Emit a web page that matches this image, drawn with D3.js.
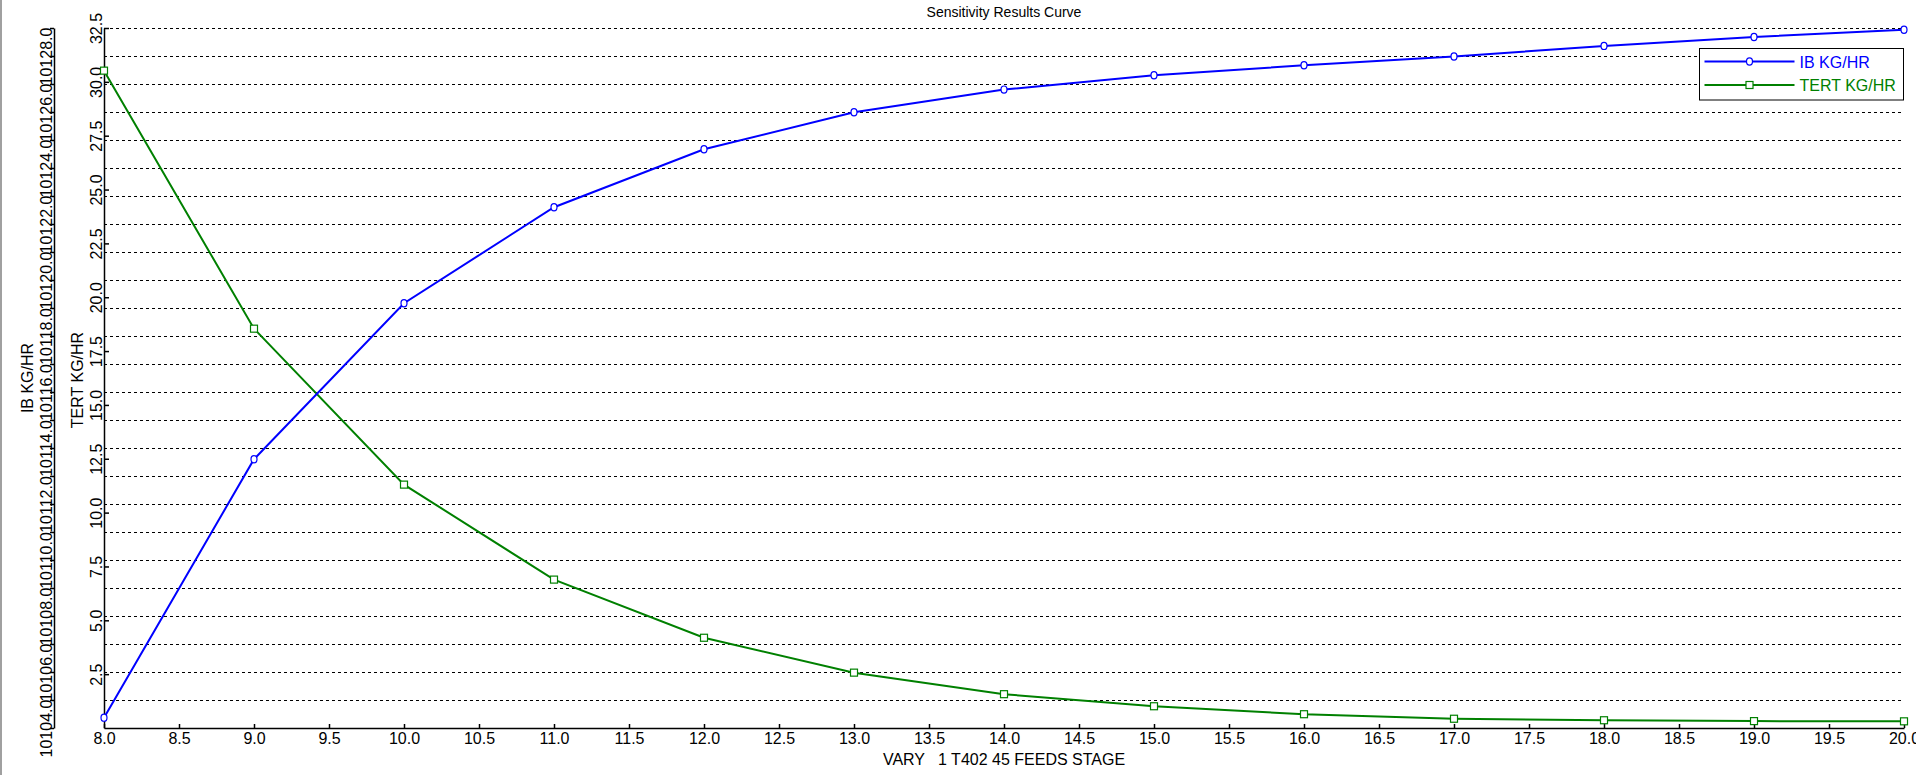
<!DOCTYPE html>
<html>
<head>
<meta charset="utf-8">
<script src="https://cdn.jsdelivr.net/npm/d3@7"></script>
<style>
  html, body { margin: 0; padding: 0; background: #fff; }
  svg { display: block; font-family: "Liberation Sans", Arial, sans-serif; }
</style>
</head>
<body>
<div id="chart"></div>
<script>
// values
var stages = [8, 9, 10, 11, 12, 13, 14, 15, 16, 17, 18, 19, 20];
var ibFlow = [10104.37, 10113.6, 10119.17, 10122.6, 10124.67, 10125.99, 10126.8,
  10127.31, 10127.67, 10127.98, 10128.36, 10128.68, 10128.94];
var tertFlow = [30.52, 18.54, 11.3, 6.89, 4.19, 2.57, 1.57, 1.01, 0.64, 0.43, 0.36, 0.32, 0.31];

var xTicks = d3.range(8, 20.01, 0.5);
var tertTicks = d3.range(2.5, 32.51, 2.5);
var ibTicks = d3.range(10104, 10129.5, 1);

var width = 1916,
  height = 775,
  plotLeft = 104,
  plotRight = 1904,
  plotTop = 28,
  plotBottom = 728,
  blue = "#0000ff",
  green = "#008000";

var svg = d3.select("#chart")
  .append("svg")
  .attr("width", width)
  .attr("height", height);

svg.append("rect")
  .attr("width", width)
  .attr("height", height)
  .attr("fill", "#fff");

// window edge at the far left
svg.append("rect")
  .attr("x", 0)
  .attr("y", 0)
  .attr("width", 2)
  .attr("height", height)
  .attr("fill", "#a0a0a0");

var x = d3.scaleLinear().domain([8, 20]).range([plotLeft, plotRight]);
var yTert = d3.scaleLinear().domain([0, 32.5]).range([plotBottom, plotTop]);
var yIb = d3.scaleLinear().domain([10104, 10129]).range([plotBottom, plotTop]);

// dashed grid, one line per IB tick
svg.append("g")
  .selectAll("line")
  .data(ibTicks.slice(1))
  .enter()
  .append("line")
  .attr("x1", plotLeft)
  .attr("x2", plotRight - 3)
  .attr("y1", function (d) { return Math.round(yIb(d)) + 0.5; })
  .attr("y2", function (d) { return Math.round(yIb(d)) + 0.5; })
  .attr("stroke", "#000")
  .attr("stroke-width", 1)
  .attr("stroke-dasharray", "3,3");

function styleAxis(g) {
  g.attr("font-family", "'Liberation Sans', Arial, sans-serif")
    .attr("font-size", 16);
  g.selectAll("path, line").attr("stroke", "#000").attr("stroke-width", 1.5);
  g.selectAll("text").attr("fill", "#000");
}

// x axis
var xAxis = svg.append("g")
  .attr("transform", "translate(0," + plotBottom + ")")
  .call(d3.axisBottom(x)
    .tickValues(xTicks)
    .tickSizeInner(-4)
    .tickSizeOuter(0)
    .tickPadding(5)
    .tickFormat(d3.format(".1f")));
styleAxis(xAxis);

// TERT axis (inner)
var tertAxis = svg.append("g")
  .attr("transform", "translate(" + plotLeft + ",0)")
  .call(d3.axisLeft(yTert)
    .tickValues(tertTicks)
    .tickSizeInner(-5)
    .tickSizeOuter(0)
    .tickFormat(d3.format(".1f")));
styleAxis(tertAxis);
tertAxis.selectAll("text")
  .attr("x", 0)
  .attr("dy", 0)
  .attr("text-anchor", "middle")
  .attr("transform", "translate(-2,0) rotate(-90)");

// IB axis (outer)
var ibAxis = svg.append("g")
  .attr("transform", "translate(54,0)")
  .call(d3.axisLeft(yIb)
    .tickValues(ibTicks)
    .tickSizeInner(4)
    .tickSizeOuter(0)
    .tickFormat(function (d) { return (d % 2 === 0) ? d3.format(".1f")(d) : ""; }));
styleAxis(ibAxis);
ibAxis.selectAll("text")
  .attr("x", 0)
  .attr("dy", 0)
  .attr("text-anchor", "middle")
  .attr("transform", "translate(-2,0) rotate(-90)");

// titles
svg.append("text")
  .attr("x", (plotLeft + plotRight) / 2)
  .attr("y", 17)
  .attr("text-anchor", "middle")
  .attr("font-size", 14)
  .attr("fill", "#000")
  .text("Sensitivity Results Curve");

svg.append("text")
  .attr("x", (plotLeft + plotRight) / 2)
  .attr("y", 765)
  .attr("text-anchor", "middle")
  .attr("font-size", 16)
  .attr("fill", "#000")
  .style("white-space", "pre")
  .text("VARY   1 T402 45 FEEDS STAGE");

svg.append("text")
  .attr("transform", "translate(33,378) rotate(-90)")
  .attr("text-anchor", "middle")
  .attr("font-size", 16)
  .attr("fill", "#000")
  .text("IB KG/HR");

svg.append("text")
  .attr("transform", "translate(83,380) rotate(-90)")
  .attr("text-anchor", "middle")
  .attr("font-size", 16)
  .attr("fill", "#000")
  .text("TERT KG/HR");

// series
var ibData = stages.map(function (s, i) { return [s, ibFlow[i]]; });
var tertData = stages.map(function (s, i) { return [s, tertFlow[i]]; });

var ibLine = d3.line()
  .x(function (d) { return x(d[0]); })
  .y(function (d) { return yIb(d[1]); });
var tertLine = d3.line()
  .x(function (d) { return x(d[0]); })
  .y(function (d) { return yTert(d[1]); });

svg.append("path")
  .datum(tertData)
  .attr("d", tertLine)
  .attr("fill", "none")
  .attr("stroke", green)
  .attr("stroke-width", 2);

svg.append("path")
  .datum(ibData)
  .attr("d", ibLine)
  .attr("fill", "none")
  .attr("stroke", blue)
  .attr("stroke-width", 2);

svg.append("g")
  .selectAll("rect")
  .data(tertData)
  .enter()
  .append("rect")
  .attr("x", function (d) { return x(d[0]) - 3.5; })
  .attr("y", function (d) { return yTert(d[1]) - 3.5; })
  .attr("width", 7)
  .attr("height", 7)
  .attr("fill", "#fff")
  .attr("stroke", green)
  .attr("stroke-width", 1.2);

svg.append("g")
  .selectAll("ellipse")
  .data(ibData)
  .enter()
  .append("ellipse")
  .attr("cx", function (d) { return x(d[0]); })
  .attr("cy", function (d) { return yIb(d[1]); })
  .attr("rx", 3)
  .attr("ry", 3.6)
  .attr("fill", "#fff")
  .attr("stroke", blue)
  .attr("stroke-width", 1.2);

// legend
var legend = svg.append("g").attr("transform", "translate(1699.5,48.5)");
legend.append("rect")
  .attr("width", 204)
  .attr("height", 51.5)
  .attr("fill", "#fff")
  .attr("stroke", "#000")
  .attr("stroke-width", 1);

var legendItems = [
  { name: "IB KG/HR", color: blue, mark: "circle" },
  { name: "TERT KG/HR", color: green, mark: "square" }
];

legendItems.forEach(function (item, i) {
  var yy = 13 + i * 23.5;
  legend.append("line")
    .attr("x1", 5)
    .attr("x2", 95)
    .attr("y1", yy)
    .attr("y2", yy)
    .attr("stroke", item.color)
    .attr("stroke-width", 2);
  if (item.mark === "circle") {
    legend.append("ellipse")
      .attr("cx", 50)
      .attr("cy", yy)
      .attr("rx", 3)
      .attr("ry", 3.6)
      .attr("fill", "#fff")
      .attr("stroke", item.color)
      .attr("stroke-width", 1.2);
  } else {
    legend.append("rect")
      .attr("x", 46.5)
      .attr("y", yy - 3.5)
      .attr("width", 7)
      .attr("height", 7)
      .attr("fill", "#fff")
      .attr("stroke", item.color)
      .attr("stroke-width", 1.2);
  }
  legend.append("text")
    .attr("x", 100)
    .attr("y", yy + 6)
    .attr("font-size", 16)
    .attr("fill", item.color)
    .text(item.name);
});
</script>
</body>
</html>
